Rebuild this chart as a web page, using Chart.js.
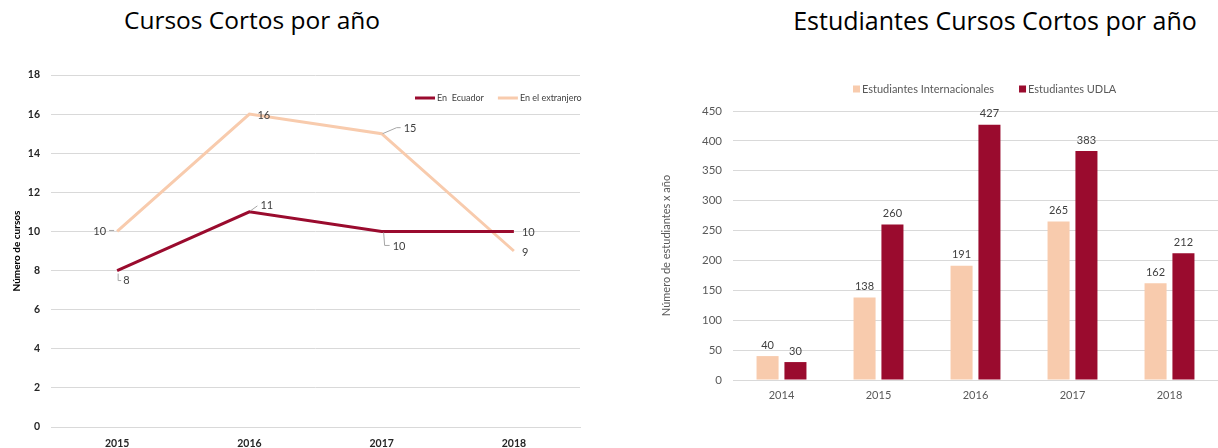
<!DOCTYPE html>
<html>
<head>
<meta charset="utf-8">
<script src="https://cdn.jsdelivr.net/npm/chart.js@4.4.1/dist/chart.umd.min.js"></script>
<style>
  html, body { margin: 0; padding: 0; background: #fff; overflow: hidden; }
  #wrap { position: relative; width: 1218px; height: 448px; }
  .titulo { position: absolute; top: 3px; font-family: "Open Sans", sans-serif; font-weight: 400; font-size: 24.5px; color: #000; white-space: nowrap; transform: translateX(-50%); }
  canvas { position: absolute; top: 0; }
</style>
</head>
<body>
<div id="wrap">
  <div class="titulo" style="left:252px">Cursos Cortos por año</div>
  <div class="titulo" style="left:995px; font-size:25px">Estudiantes Cursos Cortos por año</div>
  <canvas id="cursos" width="600" height="448" style="left:0"></canvas>
  <canvas id="estudiantes" width="598" height="448" style="left:620px"></canvas>
</div>

<script>
// cursos cortos por año
var cursoYears = ["2015", "2016", "2017", "2018"];
var enEcuador = [8, 11, 10, 10];
var enExtranjero = [10, 16, 15, 9];
var cursoTicks = [0, 2, 4, 6, 8, 10, 12, 14, 16, 18];

// estudiantes por año
var estYears = ["2014", "2015", "2016", "2017", "2018"];
var estInternacionales = [40, 138, 191, 265, 162];
var estUdla = [30, 260, 427, 383, 212];
var estTicks = [0, 50, 100, 150, 200, 250, 300, 350, 400, 450];

var rojo = "#9a0b2e";
var durazno = "#f8cbad";
var grilla = "#d9d9d9";
var gris = "#595959";

// where each value label sits next to its point: [dx, dy, align, leader path]
var cursoLabelSpots = [
  [
    [6, 10, "left", [[1, 3], [1, 10], [4, 10]]],
    [11, -6, "left", [[1, -1], [8, -6]]],
    [11, 15, "left", [[2, 1], [3, 14], [8, 14]]],
    [8, 1, "left", null]
  ],
  [
    [-11, 0, "right", [[-8, -1], [-3, -1]]],
    [8, 1, "left", null],
    [22, -5, "left", [[1, 0], [15, -6], [19, -6]]],
    [8, 1, "left", null]
  ]
];

var lineLabels = {
  id: "lineLabels",
  afterDatasetsDraw: function(chart) {
    var ctx = chart.ctx;
    ctx.save();
    ctx.font = "11px Lato";
    ctx.textBaseline = "middle";
    chart.data.datasets.forEach(function(ds, d) {
      var meta = chart.getDatasetMeta(d);
      meta.data.forEach(function(pt, i) {
        var s = cursoLabelSpots[d][i];
        if (s[3]) {
          ctx.strokeStyle = "#a6a6a6";
          ctx.lineWidth = 1;
          ctx.beginPath();
          s[3].forEach(function(p, k) {
            if (k === 0) ctx.moveTo(pt.x + p[0], pt.y + p[1]);
            else ctx.lineTo(pt.x + p[0], pt.y + p[1]);
          });
          ctx.stroke();
        }
        ctx.fillStyle = "#404040";
        ctx.textAlign = s[2];
        ctx.fillText(String(ds.data[i]), pt.x + s[0], pt.y + s[1]);
      });
    });
    ctx.restore();
  }
};

// small legend inside the plot, top right
var lineLegend = {
  id: "lineLegend",
  afterDraw: function(chart) {
    var ctx = chart.ctx;
    var x = 415;
    var y = 98;
    ctx.save();
    ctx.font = "9px Lato";
    ctx.textBaseline = "middle";
    ctx.textAlign = "left";
    chart.data.datasets.forEach(function(ds) {
      ctx.strokeStyle = ds.borderColor;
      ctx.lineWidth = 3;
      ctx.beginPath();
      ctx.moveTo(x, y);
      ctx.lineTo(x + 20, y);
      ctx.stroke();
      ctx.fillStyle = "#404040";
      ctx.fillText(ds.label, x + 22, y);
      x += 22 + ctx.measureText(ds.label).width + 14;
    });
    ctx.restore();
  }
};

var barLabels = {
  id: "barLabels",
  afterDatasetsDraw: function(chart) {
    var ctx = chart.ctx;
    ctx.save();
    ctx.font = "11px Lato";
    ctx.fillStyle = "#404040";
    ctx.textAlign = "center";
    ctx.textBaseline = "middle";
    chart.data.datasets.forEach(function(ds, d) {
      chart.getDatasetMeta(d).data.forEach(function(bar, i) {
        ctx.fillText(String(ds.data[i]), bar.x, bar.y - 11);
      });
    });
    ctx.restore();
  }
};

var barLegend = {
  id: "barLegend",
  afterDraw: function(chart) {
    var ctx = chart.ctx;
    var x = 233;
    var y = 89;
    ctx.save();
    ctx.font = "11px Lato";
    ctx.textBaseline = "middle";
    ctx.textAlign = "left";
    chart.data.datasets.forEach(function(ds) {
      ctx.fillStyle = ds.backgroundColor;
      ctx.fillRect(x, y - 3.5, 7, 7);
      ctx.fillStyle = gris;
      ctx.fillText(ds.label, x + 9, y);
      x += 9 + ctx.measureText(ds.label).width + 25;
    });
    ctx.restore();
  }
};

function tickList(values) {
  return function(scale) {
    scale.ticks = values.map(function(v) { return {value: v}; });
  };
}

function drawCursos() {
  var ctx = document.getElementById("cursos");
  new Chart(ctx, {
    type: "line",
    data: {
      labels: cursoYears,
      datasets: [{
        label: "En  Ecuador",
        data: enEcuador,
        borderColor: rojo,
        backgroundColor: rojo,
        borderWidth: 3,
        pointRadius: 0,
        tension: 0
      }, {
        label: "En el extranjero",
        data: enExtranjero,
        borderColor: durazno,
        backgroundColor: durazno,
        borderWidth: 3,
        pointRadius: 0,
        tension: 0
      }]
    },
    options: {
      responsive: false,
      animation: false,
      devicePixelRatio: 1,
      layout: { padding: { top: 75, right: 20, left: 0, bottom: 0 } },
      plugins: { legend: { display: false }, tooltip: { enabled: false } },
      scales: {
        x: {
          offset: true,
          grid: { display: false, drawTicks: false },
          border: { color: grilla },
          ticks: { color: "#262626", font: { family: "Lato", size: 10.5, weight: "bold" }, padding: 10 },
          afterFit: function(s) { s.height = 21; }
        },
        y: {
          min: 0,
          max: 18,
          afterBuildTicks: tickList(cursoTicks),
          grid: { color: grilla, drawTicks: false },
          border: { display: false },
          ticks: { color: "#262626", font: { family: "Lato", size: 10.5, weight: "bold" }, padding: 11 },
          title: { display: true, text: "Número de cursos", color: "#000", font: { family: "Lato", size: 10, weight: "bold" }, padding: { top: 11, bottom: 0 } },
          afterFit: function(s) { s.width = 51; }
        }
      }
    },
    plugins: [lineLabels, lineLegend]
  });
}

function drawEstudiantes() {
  var ctx = document.getElementById("estudiantes");
  new Chart(ctx, {
    type: "bar",
    data: {
      labels: estYears,
      datasets: [{
        label: "Estudiantes Internacionales",
        data: estInternacionales,
        backgroundColor: durazno
      }, {
        label: "Estudiantes UDLA",
        data: estUdla,
        backgroundColor: rojo
      }]
    },
    options: {
      responsive: false,
      animation: false,
      devicePixelRatio: 1,
      layout: { padding: { top: 111, right: 0, left: 0, bottom: 0 } },
      datasets: { bar: { categoryPercentage: 0.575, barPercentage: 0.79 } },
      plugins: { legend: { display: false }, tooltip: { enabled: false } },
      scales: {
        x: {
          grid: { display: false, drawTicks: false },
          border: { color: grilla },
          ticks: { color: gris, font: { family: "Lato", size: 11 }, padding: 9 },
          afterFit: function(s) { s.height = 68; }
        },
        y: {
          min: 0,
          max: 450,
          afterBuildTicks: tickList(estTicks),
          grid: { color: grilla, drawTicks: false },
          border: { display: false },
          ticks: { color: gris, font: { family: "Lato", size: 11.5 }, padding: 11 },
          title: { display: true, text: "Número de estudiantes x año", color: gris, font: { family: "Lato", size: 11 }, padding: { top: 40, bottom: 0 } },
          afterFit: function(s) { s.width = 113; }
        }
      }
    },
    plugins: [barLabels, barLegend]
  });
}

drawCursos();
drawEstudiantes();
</script>
</body>
</html>
